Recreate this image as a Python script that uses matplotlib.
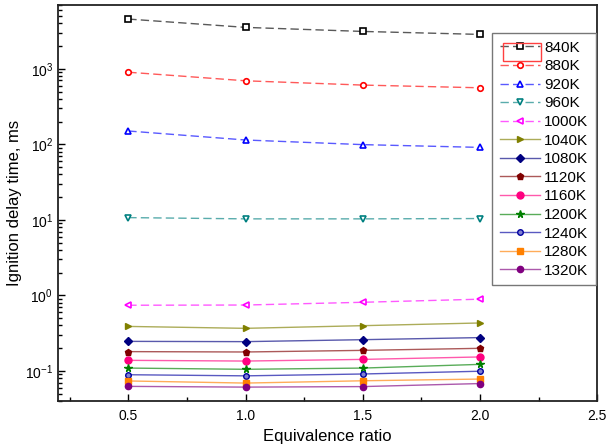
import numpy as np
import matplotlib
matplotlib.use('Agg')
import matplotlib.pyplot as plt
from matplotlib.patches import Rectangle

plt.rcParams['font.family'] = ['Liberation Sans', 'DejaVu Sans']
plt.rcParams['mathtext.fontset'] = 'custom'
plt.rcParams['mathtext.rm'] = 'Liberation Sans'
plt.rcParams['mathtext.it'] = 'Liberation Sans:italic'

# equivalence ratio
phi = [0.5, 1.0, 1.5, 2.0]

# ignition delay time (ms) for each initial temperature
t840 = [4550, 3530, 3120, 2850]
t880 = [900, 693, 608, 560]
t920 = [150, 114, 99, 91]
t960 = [10.7, 10.3, 10.3, 10.4]
t1000 = [0.74, 0.745, 0.81, 0.89]
t1040 = [0.388, 0.366, 0.397, 0.431]
t1080 = [0.246, 0.244, 0.259, 0.276]
t1120 = [0.180, 0.178, 0.187, 0.199]
t1160 = [0.138, 0.135, 0.142, 0.153]
t1200 = [0.109, 0.105, 0.109, 0.122]
t1240 = [0.089, 0.086, 0.091, 0.099]
t1280 = [0.0736, 0.069, 0.074, 0.078]
t1320 = [0.0624, 0.061, 0.062, 0.068]

labels = ['840K', '880K', '920K', '960K', '1000K', '1040K', '1080K',
          '1120K', '1160K', '1200K', '1240K', '1280K', '1320K']
series = [t840, t880, t920, t960, t1000, t1040, t1080,
          t1120, t1160, t1200, t1240, t1280, t1320]

colors = ['#000000', '#FF0000', '#0000FF', '#008080', '#FF00FF', '#808000',
          '#000080', '#800000', '#FF0080', '#008000', '#0000A0', '#FF8000',
          '#800080']
markers = ['s', 'o', '^', 'v', '<', '>', 'D', 'p', 'o', '*', 'o', 's', 'o']
sizes = [4, 4, 4.5, 4.5, 4.5, 5, 4.5, 5, 5, 5.5, 4, 4.5, 4.5]


def lighten(c, f):
    rgb = np.array(matplotlib.colors.to_rgb(c))
    return tuple(rgb + (1 - rgb) * f)


fig = plt.figure(figsize=(6.1, 4.48), dpi=100)
ax = fig.add_axes([0.095, 0.105, 0.884, 0.884])

for i in range(len(series)):
    if i < 5:
        # open markers, dashed lines
        ax.plot(phi, series[i], linestyle=(0, (6, 3)), lw=1.0,
                color=lighten(colors[i], 0.35), marker=markers[i], ms=sizes[i],
                mfc='white', mec=colors[i], mew=1.2, label=labels[i])
    else:
        mfc = colors[i]
        if i == 10:
            mfc = lighten(colors[i], 0.5)
        ax.plot(phi, series[i], '-', lw=1.0,
                color=lighten(colors[i], 0.35), marker=markers[i], ms=sizes[i],
                mfc=mfc, mec=colors[i], mew=1.0, label=labels[i])

ax.set_yscale('log')
ax.set_xlim(0.2, 2.5)
ax.set_ylim(0.04, 7000)
ax.set_xticks([0.5, 1.0, 1.5, 2.0, 2.5])
ax.set_xticks([0.25, 0.75, 1.25, 1.75, 2.25], minor=True)
ax.set_xticklabels(['0.5', '1.0', '1.5', '2.0', '2.5'])
ax.tick_params(axis='both', which='both', direction='in', top=False, right=False,
               labelsize=10)
ax.tick_params(which='major', length=5, width=1)
ax.tick_params(which='minor', length=3, width=1)
ax.tick_params(axis='x', which='major', pad=6)

for s in ax.spines.values():
    s.set_linewidth(1.3)
    s.set_color('#222222')

ax.set_xlabel('Equivalence ratio', fontsize=12, labelpad=4)
ax.set_ylabel('Ignition delay time, ms', fontsize=12, labelpad=2)

leg = ax.legend(loc='upper right', bbox_to_anchor=(0.998, 0.929),
                borderaxespad=0, fontsize=11, fancybox=False,
                edgecolor='#777777', framealpha=1, handlelength=2.6,
                labelspacing=0.3, handletextpad=0.3, borderpad=0.5)
leg.get_frame().set_linewidth(1.0)

# red selection box around the first legend entry
ax.add_patch(Rectangle((0.826, 0.858), 0.07, 0.046, transform=ax.transAxes,
                       fill=False, edgecolor='#FF4040', lw=1.0, zorder=10))

fig.savefig('out.png', dpi=100)
